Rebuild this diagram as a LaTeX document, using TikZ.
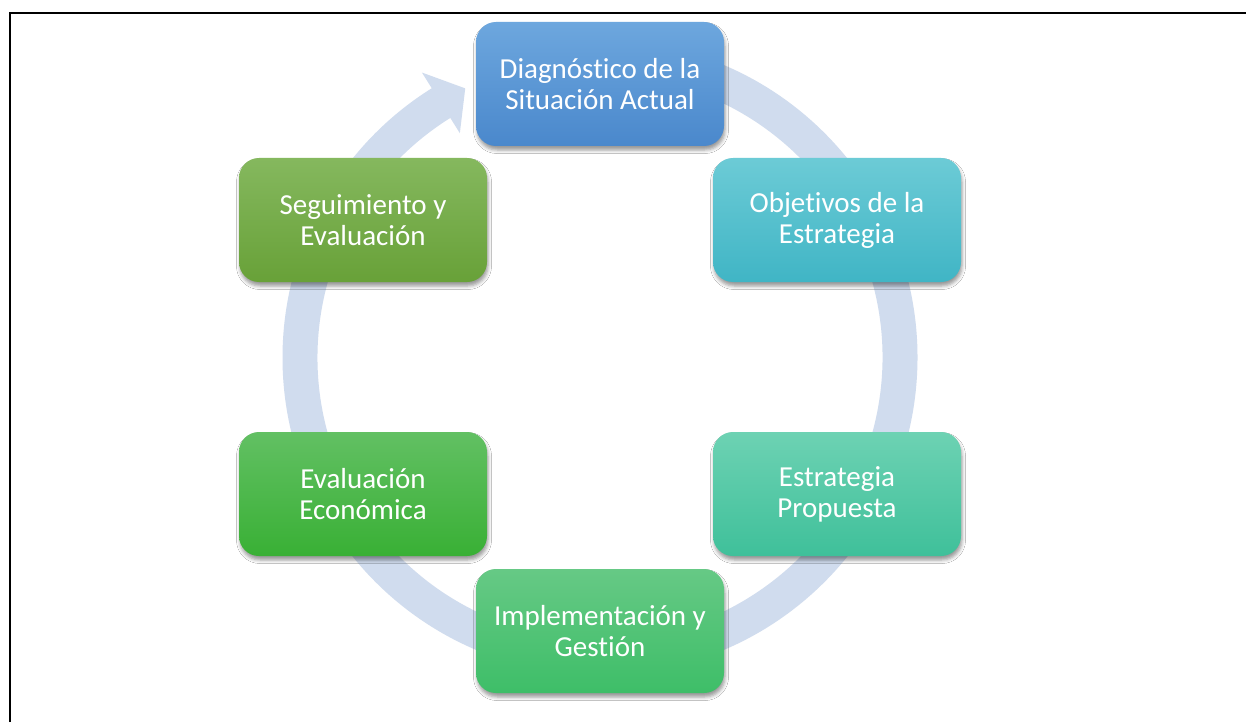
\documentclass[tikz,border=0pt]{standalone}
\usepackage{fontspec}
\setmainfont[Ligatures=NoCommon]{Carlito}
\usetikzlibrary{shadows.blur,calc}
\definecolor{ringc}{HTML}{D0DCEE}
\definecolor{diagT}{HTML}{6DA7DE}\definecolor{diagB}{HTML}{4A88CC}
\definecolor{objT}{HTML}{6CCBD6}\definecolor{objB}{HTML}{40B5C5}
\definecolor{estT}{HTML}{6DD2B3}\definecolor{estB}{HTML}{3FC09A}
\definecolor{impT}{HTML}{66C985}\definecolor{impB}{HTML}{3EBE68}
\definecolor{ecoT}{HTML}{62C063}\definecolor{ecoB}{HTML}{39B035}
\definecolor{segT}{HTML}{85B85E}\definecolor{segB}{HTML}{68A138}
\tikzset{
  stagebox/.style={rounded corners=20pt, minimum width=248pt, minimum height=124pt,
    text=white, align=center, inner sep=0pt,
    font=\fontsize{29}{31}\selectfont,
    blur shadow={shadow xshift=1pt, shadow yshift=-4pt, shadow blur radius=3.5pt, shadow opacity=40}},
  ringfill/.style={fill=ringc, draw=none}
}
\begin{document}
\begin{tikzpicture}[x=1pt,y=1pt]
\useasboundingbox (0,0) rectangle (1246,-722);
\fill[white] (0,0) rectangle (1246,-722);
\draw[line width=1.5pt] (10,-722) -- (10,-13) -- (1246,-13);
\coordinate (c) at (600,-357.5);
% circular arrow
\fill[ringfill] ($(c)+(88:317.5pt)$) arc[start angle=88, end angle=-238, radius=317.5pt]
  -- ($(c)+(-238:336pt)$) -- ($(c)+(-243.4:301pt)$) -- ($(c)+(-238:264.5pt)$)
  -- ($(c)+(-238:282.5pt)$) arc[start angle=-238, end angle=88, radius=282.5pt] -- cycle;
% stages
\node[stagebox, top color=diagT, bottom color=diagB] (diag) at (600,-84) {Diagnóstico de la\\Situación Actual};
\node[stagebox, top color=objT, bottom color=objB] (obj) at (837,-220) {Objetivos de la\\Estrategia};
\node[stagebox, top color=estT, bottom color=estB] (estr) at (837,-494) {Estrategia\\Propuesta};
\node[stagebox, top color=impT, bottom color=impB] (impl) at (600,-631) {Implementación y\\Gestión};
\node[stagebox, top color=ecoT, bottom color=ecoB] (econ) at (363,-494) {Evaluación\\Económica};
\node[stagebox, top color=segT, bottom color=segB] (seg) at (363,-220) {Seguimiento y\\Evaluación};
\end{tikzpicture}
\end{document}
